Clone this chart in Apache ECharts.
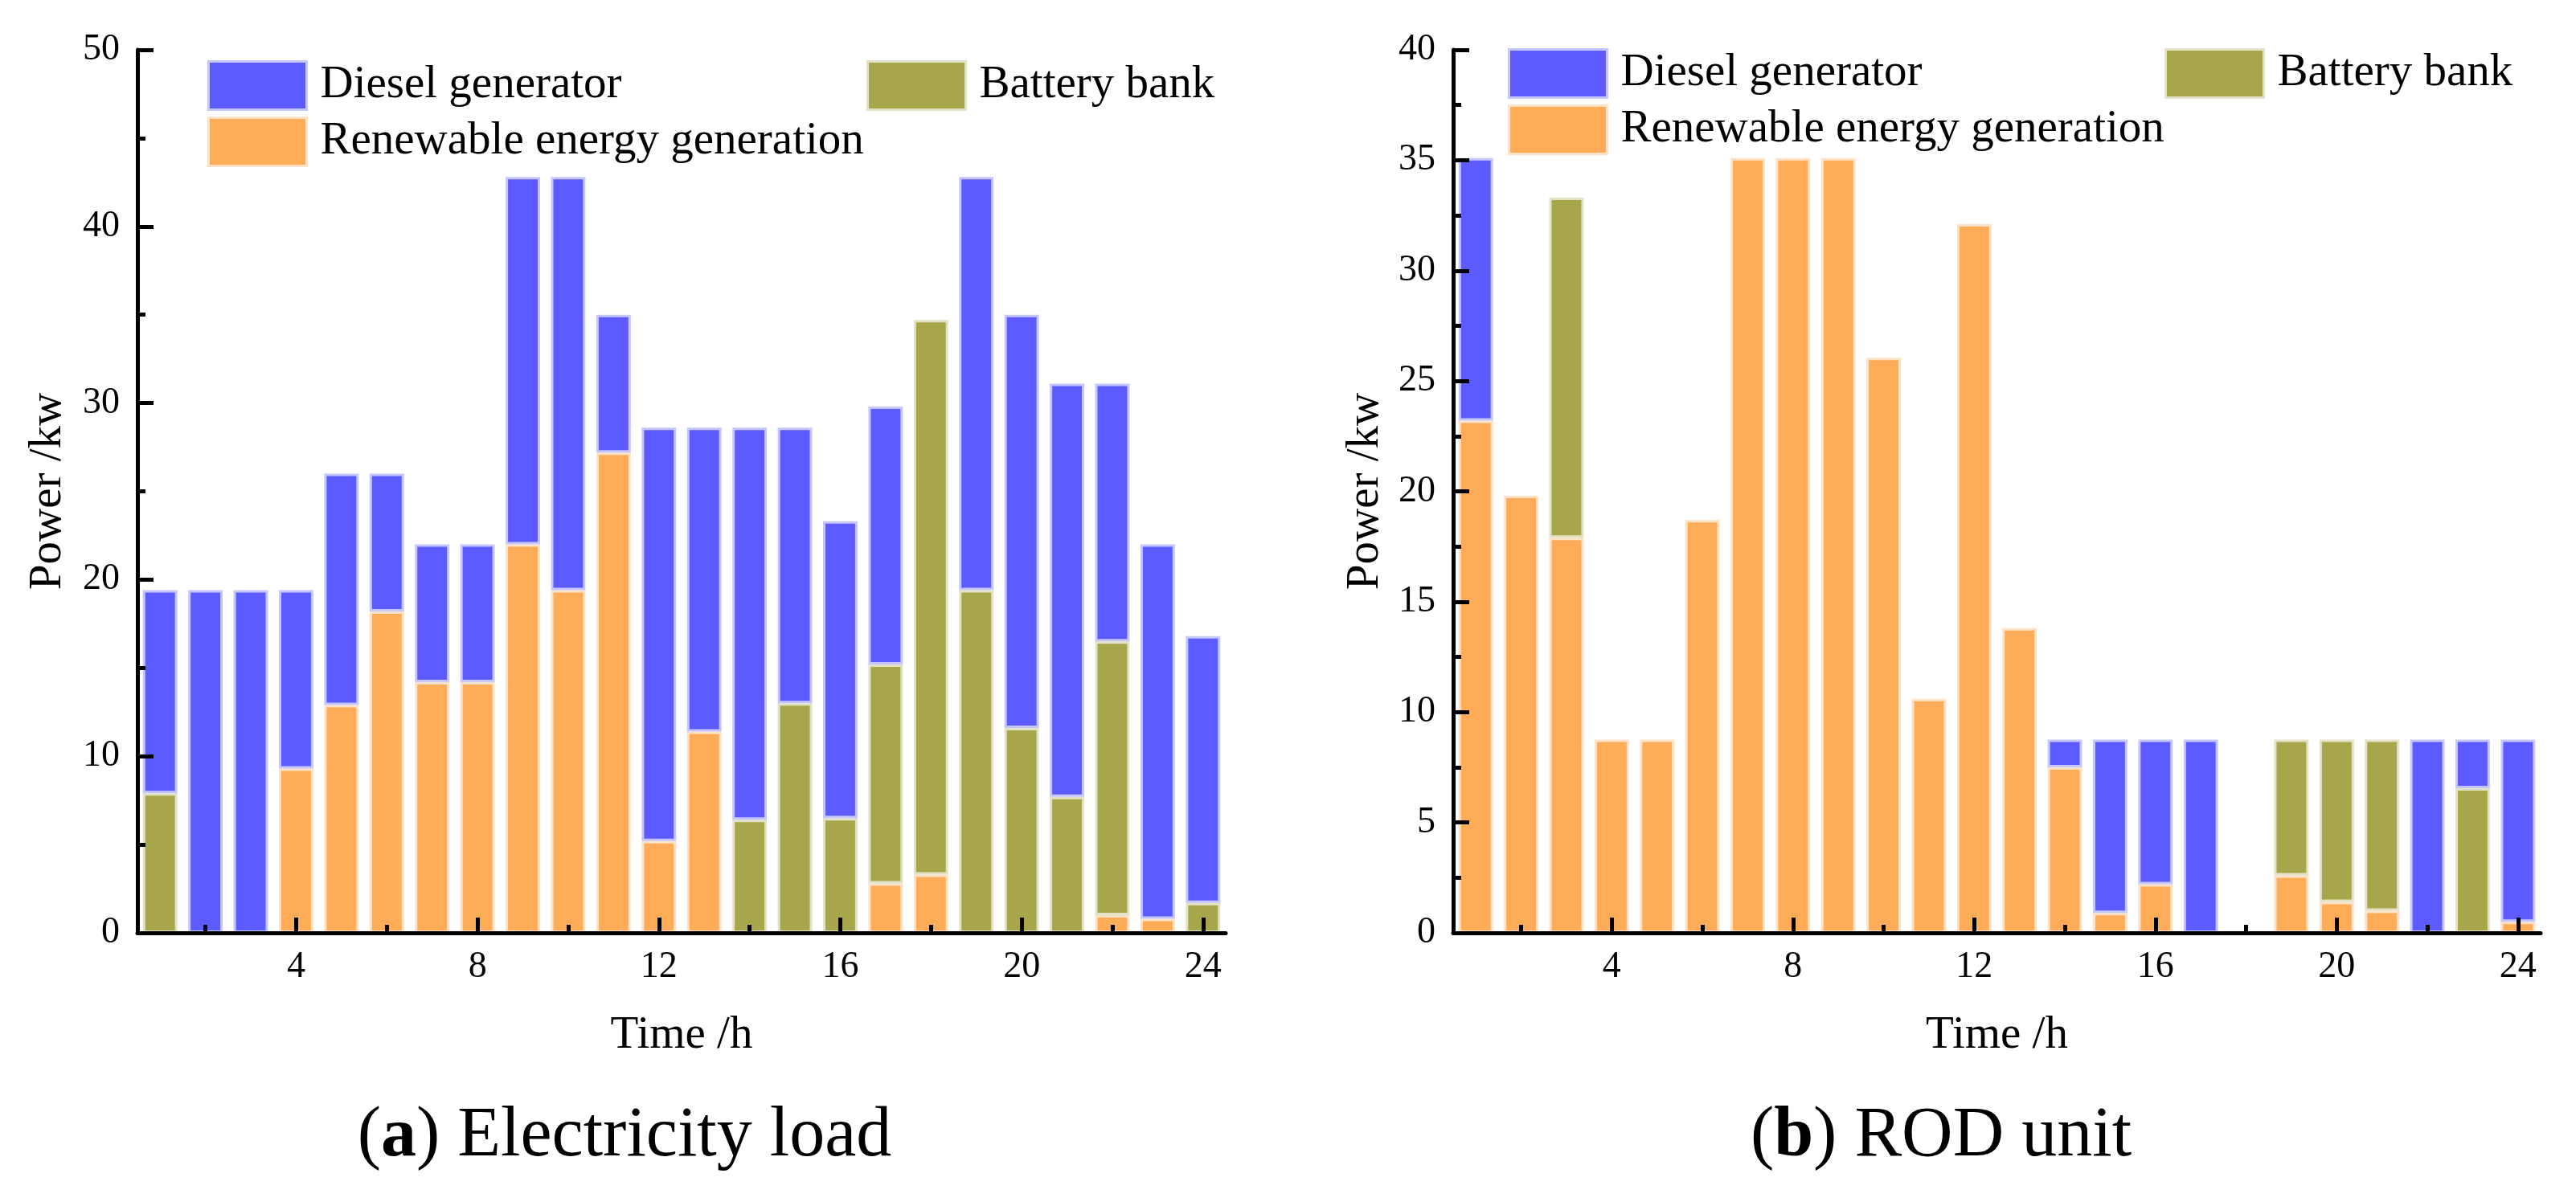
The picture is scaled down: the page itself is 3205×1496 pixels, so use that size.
<!DOCTYPE html>
<html>
<head>
<meta charset="utf-8">
<script src="https://cdn.jsdelivr.net/npm/echarts@6/dist/echarts.min.js"></script>
<style>
html,body{margin:0;padding:0;background:#fff;}
#c{width:3205px;height:1496px;}
</style>
</head>
<body>
<div id="c"></div>
<script>
// ---- categories and tick labels ----
const hours = ['1','2','3','4','5','6','7','8','9','10','11','12','13','14','15','16','17','18','19','20','21','22','23','24'];
const xTickLabels = ['4','8','12','16','20','24'];
const xMinorTicks = ['2','6','10','14','18','22'];

// ---- (a) Electricity load ----
const renewA   = [0,0,0,9.3,12.9,18.2,14.2,14.2,22.0,19.4,27.2,5.2,11.4,0,0,0,2.8,3.3,0,0,0,1.0,0.8,0];
const batteryA = [7.9,0,0,0,0,0,0,0,0,0,0,0,0,6.4,13.0,6.5,12.4,31.4,19.4,11.6,7.7,15.5,0,1.7];
const dieselA  = [11.5,19.4,19.4,10.1,13.1,7.8,7.8,7.8,20.8,23.4,7.8,23.4,17.2,22.2,15.6,16.8,14.6,0,23.4,23.4,23.4,14.6,21.2,15.1];

// ---- (b) ROD unit ----
const renewB   = [23.2,19.8,17.9,8.75,8.75,18.7,35.1,35.1,35.1,26.05,10.6,32.1,13.8,7.5,0.9,2.2,0,0,2.6,1.4,1.0,0,0,0.5];
const batteryB = [0,0,15.4,0,0,0,0,0,0,0,0,0,0,0,0,0,0,0,6.15,7.35,7.75,0,6.55,0];
const dieselB  = [11.9,0,0,0,0,0,0,0,0,0,0,0,0,1.25,7.85,6.55,8.75,0,0,0,0,8.75,2.2,8.25];

const FONT = "'Liberation Serif','Times New Roman',serif";
const C = {
  diesel:  {fill:'#5b5bff', border:'#c5c5ff'},
  renew:   {fill:'#ffac59', border:'#ffe2c6'},
  battery: {fill:'#a8a64b', border:'#e3e2c6'}
};
const NAMES = {diesel:'Diesel generator', renew:'Renewable energy generation', battery:'Battery bank'};

function barSeries(key, data, xi, yi) {
  return {
    type:'bar', name:NAMES[key], stack:'s'+yi, xAxisIndex:xi, yAxisIndex:yi,
    data: data.map(v => v === 0 ? '-' : v),
    barWidth:'76%', z:2,
    itemStyle:{color:C[key].fill, borderColor:C[key].border, borderWidth:3},
    emphasis:{disabled:true}, animation:false
  };
}

function xAxes(gi) {
  return [
    {
      gridIndex:gi, type:'category', data:hours, position:'bottom', z:10, zlevel:1,
      axisLine:{show:true, lineStyle:{color:'#000', width:5}},
      axisTick:{show:true, inside:true, alignWithLabel:true, length:19,
        lineStyle:{color:'#000', width:5}, interval:(i)=> xTickLabels.indexOf(hours[i])>=0},
      axisLabel:{interval:(i)=> xTickLabels.indexOf(hours[i])>=0, margin:20,
        fontSize:46, fontFamily:FONT, color:'#000'},
      splitLine:{show:false},
      name:'Time /h', nameLocation:'middle', nameGap:100,
      nameTextStyle:{fontSize:57, fontFamily:FONT, color:'#000'}
    },
    {
      gridIndex:gi, type:'category', data:hours, position:'bottom', z:10, zlevel:1,
      axisLine:{show:false},
      axisTick:{show:true, inside:true, alignWithLabel:true, length:10,
        lineStyle:{color:'#000', width:5}, interval:(i)=> xMinorTicks.indexOf(hours[i])>=0},
      axisLabel:{show:false}, splitLine:{show:false}
    }
  ];
}

function yAxis(gi, max, interval, gap) {
  return {
    gridIndex:gi, type:'value', min:0, max:max, interval:interval, z:10, zlevel:1,
    axisLine:{show:true, lineStyle:{color:'#000', width:5}},
    axisTick:{show:true, inside:true, length:20, lineStyle:{color:'#000', width:5}},
    minorTick:{show:true, splitNumber:2, length:10, lineStyle:{color:'#000', width:5}},
    splitLine:{show:false}, minorSplitLine:{show:false},
    axisLabel:{margin:22, fontSize:46, fontFamily:FONT, color:'#000'},
    name:'Power /kw', nameLocation:'middle', nameGap:gap,
    nameTextStyle:{fontSize:57, fontFamily:FONT, color:'#000'}
  };
}

function legend(key, left, top) {
  return {
    data:[{name:NAMES[key], textStyle:{fontFamily:FONT, fontSize:57, color:'#000'}}],
    left:left, top:top, padding:0, orient:'vertical',
    icon:'rect', itemWidth:122, itemHeight:60, selectedMode:false,
    itemStyle:{borderColor:C[key].border, borderWidth:3},
    textStyle:{fontSize:57, fontFamily:FONT, color:'#000', padding:[0,0,0,12]}
  };
}

function title(x, letter, rest) {
  return {
    type:'text', x:x, y:1415, silent:true,
    style:{
      text:'{n|(}{b|'+letter+'}{n|) '+rest+'}',
      rich:{
        n:{fontSize:88, fontFamily:FONT, fill:'#000', color:'#000'},
        b:{fontSize:88, fontFamily:FONT, fontWeight:'bold', fill:'#000', color:'#000'}
      },
      align:'center', verticalAlign:'middle'
    }
  };
}

const chart = echarts.init(document.getElementById('c'), null, {renderer:'canvas'});
chart.setOption({
  backgroundColor:'#fff',
  animation:false,
  textStyle:{fontFamily:FONT, color:'#000'},
  grid:[
    {left:171, top:62, width:1354, height:1099, containLabel:false},
    {left:1808, top:62, width:1353, height:1099, containLabel:false}
  ],
  xAxis:[].concat(xAxes(0), xAxes(1)),
  yAxis:[yAxis(0,50,10,82), yAxis(1,40,5,80)],
  legend:[
    legend('diesel', 258, 75),
    legend('renew', 258, 145),
    legend('battery', 1078, 75),
    legend('diesel', 1876, 60),
    legend('renew', 1876, 130),
    legend('battery', 2693, 60)
  ],
  series:[
    barSeries('renew', renewA, 0, 0),
    barSeries('battery', batteryA, 0, 0),
    barSeries('diesel', dieselA, 0, 0),
    barSeries('renew', renewB, 2, 1),
    barSeries('battery', batteryB, 2, 1),
    barSeries('diesel', dieselB, 2, 1)
  ],
  graphic:[
    title(777, 'a', 'Electricity load'),
    title(2415, 'b', 'ROD unit')
  ]
});
</script>
</body>
</html>
